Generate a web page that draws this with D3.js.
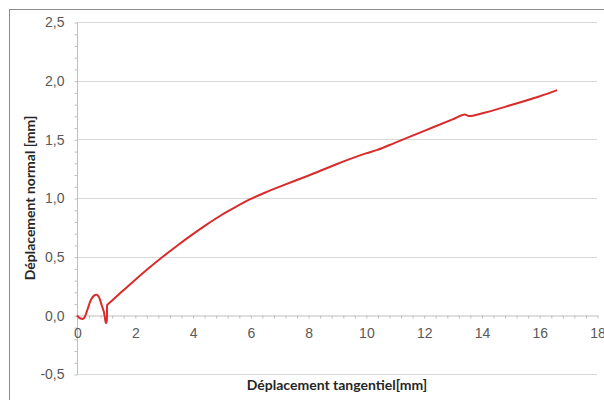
<!DOCTYPE html>
<html>
<head>
<meta charset="utf-8">
<script src="https://cdn.jsdelivr.net/npm/d3@7"></script>
<style>
  body { margin: 0; background: #fff; }
  svg { display: block; font-family: Lato, "Open Sans", sans-serif; }
</style>
</head>
<body>
<svg id="chart" width="604" height="400"></svg>
<script>
// data
const tangentiel = [0, 0.08, 0.16, 0.24, 0.35, 0.48, 0.6, 0.68, 0.75, 0.85, 0.93, 0.97, 1.0, 1.02, 1.04, 1.05,
  1.1, 1.5, 2.0, 2.5, 3.0, 3.5, 4.0, 4.5, 5.0, 5.5, 6.0, 6.5, 7.0, 8.0, 9.0, 10.0, 10.4, 11.0, 12.0,
  13.0, 13.42, 13.57, 14.0, 15.0, 16.0, 16.62];
const normal = [0, -0.02, -0.03, -0.025, 0.04, 0.13, 0.17, 0.175, 0.16, 0.09, 0.03, -0.03, -0.065, -0.06, 0.0, 0.09,
  0.10, 0.19, 0.30, 0.405, 0.505, 0.60, 0.69, 0.775, 0.855, 0.925, 0.99, 1.045, 1.095, 1.19, 1.29, 1.38, 1.41, 1.47, 1.57,
  1.67, 1.712, 1.698, 1.72, 1.79, 1.865, 1.919];
const xTicks = [0, 2, 4, 6, 8, 10, 12, 14, 16, 18];
const yTicks = [-0.5, 0, 0.5, 1, 1.5, 2, 2.5];

const margin = { top: 22, right: 7, bottom: 26, left: 77 };
const width = 604, height = 400;

const x = d3.scaleLinear().domain([0, 18]).range([margin.left, width - margin.right]);
const y = d3.scaleLinear().domain([-0.5, 2.5]).range([height - margin.bottom, margin.top]);
// french style: comma decimal, plain hyphen for minus
const fmt = (d) => d.toFixed(1).replace(".", ",");

const svg = d3.select("#chart");

// outer chart border
svg.append("rect")
  .attr("x", 9.5).attr("y", 9.5)
  .attr("width", 620).attr("height", 420)
  .attr("fill", "none").attr("stroke", "#8c8c8c");

// horizontal gridlines
svg.append("g")
  .selectAll("line")
  .data(yTicks.filter((d) => d !== 0))
  .join("line")
  .attr("x1", x(0)).attr("x2", x(18))
  .attr("y1", (d) => Math.round(y(d)) + 0.5)
  .attr("y2", (d) => Math.round(y(d)) + 0.5)
  .attr("stroke", "#d9d9d9");

// y axis with minor ticks
const yAxis = svg.append("g")
  .attr("transform", `translate(${x(0) + 0.5},0.5)`)
  .call(d3.axisLeft(y).tickValues(d3.range(-5, 26).map((d) => d / 10)).tickSize(3).tickSizeOuter(0)
    .tickFormat((d) => (yTicks.some((t) => Math.abs(t - d) < 1e-6) ? fmt(d) : "")));
yAxis.selectAll("line, path").attr("stroke", "#bfbfbf");
yAxis.selectAll("text")
  .attr("x", -13)
  .attr("fill", "#595959")
  .style("font-size", "14px");
yAxis.select(".domain").remove();
yAxis.append("line")
  .attr("y1", y(2.5)).attr("y2", y(-0.5))
  .attr("stroke", "#bfbfbf");

// x axis at y = 0 with minor ticks
const xAxis = svg.append("g")
  .attr("transform", `translate(0.5,${Math.round(y(0)) + 0.5})`)
  .call(d3.axisBottom(x).tickValues(d3.range(0, 46).map((d) => d * 0.4)).tickSize(3).tickSizeOuter(0)
    .tickFormat((d) => (xTicks.some((t) => Math.abs(t - d) < 1e-6) ? d3.format("d")(d) : "")));
xAxis.select(".domain").attr("stroke", "#bfbfbf");
xAxis.selectAll(".tick line").attr("stroke", "#bfbfbf");
xAxis.selectAll("text")
  .attr("y", 13)
  .attr("fill", "#595959")
  .style("font-size", "14px");

// curve
const pts = tangentiel.map((d, i) => [d, normal[i]]);
svg.append("path")
  .datum(pts)
  .attr("fill", "none")
  .attr("stroke", "#d92b2b")
  .attr("stroke-width", 2)
  .attr("stroke-linejoin", "round")
  .attr("d", d3.line().x((d) => x(d[0])).y((d) => y(d[1])).curve(d3.curveCatmullRom.alpha(0.5)));

// axis titles
svg.append("text")
  .attr("x", (x(0) + x(18)) / 2)
  .attr("y", 390)
  .attr("text-anchor", "middle")
  .attr("font-weight", "bold")
  .attr("fill", "#262626")
  .style("font-size", "14px")
  .text("Déplacement tangentiel[mm]");

svg.append("text")
  .attr("transform", `translate(35,${(y(2.5) + y(-0.5)) / 2}) rotate(-90)`)
  .attr("text-anchor", "middle")
  .attr("font-weight", "bold")
  .attr("fill", "#262626")
  .style("font-size", "14px")
  .text("Déplacement normal [mm]");
</script>
</body>
</html>
